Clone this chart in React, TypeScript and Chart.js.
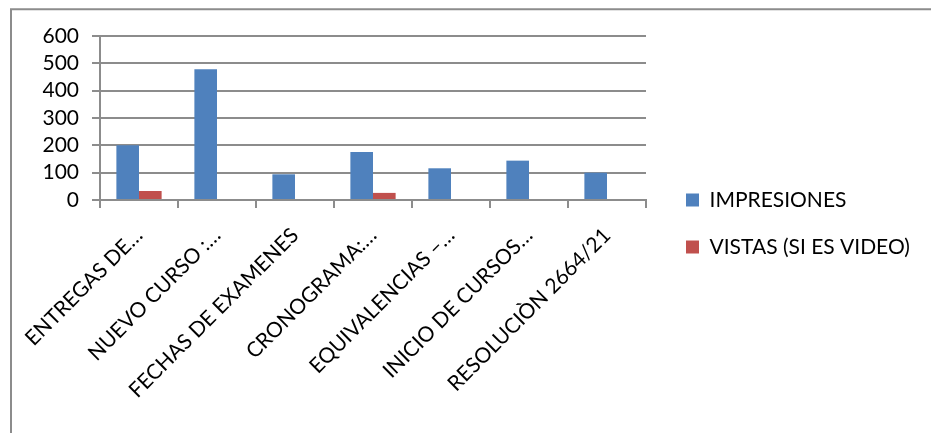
import { useEffect, useRef } from 'react';
import { Chart, registerables } from 'chart.js';

Chart.register(...registerables);

const categories = [
  'ENTREGAS DE…',
  'NUEVO CURSO :…',
  'FECHAS DE EXAMENES',
  'CRONOGRAMA:…',
  'EQUIVALENCIAS –…',
  'INICIO DE CURSOS…',
  'RESOLUCIÒN 2664/21',
];
const seriesNames = ['IMPRESIONES', 'VISTAS (SI ES VIDEO)'];
const impresiones = [200, 478, 94, 176, 116, 144, 100];
const vistas = [33, 0, 0, 26, 0, 0, 0];
const yMin = 0;
const yMax = 600;
const yStep = 100;

const W = 931;
const H = 433;
const FAMILY = "Lato, 'Open Sans', 'DejaVu Sans', sans-serif";
const FS = 21;
const LINE = '#8c8c8c';

export default function App() {
  const ref = useRef<HTMLCanvasElement | null>(null);

  useEffect(() => {
    const canvas = ref.current;
    if (!canvas) return;

    const m = document.createElement('canvas').getContext('2d')!;
    m.font = `normal ${FS}px ${FAMILY}`;
    const tw = Math.max(...seriesNames.map((n) => m.measureText(n).width));
    const legPad = 26;
    const box = 13;
    const legendW = legPad + box + FS / 2 + tw + 10;
    const padRight = Math.max(0, 271 - legendW);

    const frame = {
      id: 'frame',
      beforeDraw(chart: any) {
        const ctx = chart.ctx;
        ctx.save();
        ctx.strokeStyle = LINE;
        ctx.lineWidth = 2;
        ctx.beginPath();
        ctx.moveTo(11, H + 5);
        ctx.lineTo(11, 9.25);
        ctx.lineTo(W + 5, 9.25);
        ctx.stroke();
        ctx.restore();
      },
    };

    const font = { family: FAMILY, size: FS };

    const chart = new Chart(canvas, {
      type: 'bar',
      data: {
        labels: categories,
        datasets: [
          {
            label: seriesNames[0],
            data: impresiones,
            backgroundColor: '#4F81BD',
            borderWidth: 0,
            categoryPercentage: 0.58,
            barPercentage: 1,
          },
          {
            label: seriesNames[1],
            data: vistas,
            backgroundColor: '#C0504D',
            borderWidth: 0,
            categoryPercentage: 0.58,
            barPercentage: 1,
          },
        ],
      },
      options: {
        responsive: false,
        maintainAspectRatio: false,
        animation: false,
        devicePixelRatio: 1,
        layout: { padding: { top: 36, bottom: 22, left: 0, right: padRight } },
        plugins: {
          legend: {
            position: 'right',
            maxWidth: 500,
            labels: {
              font,
              color: '#000',
              boxWidth: box,
              boxHeight: box,
              padding: legPad,
            },
          },
          tooltip: { enabled: false },
          title: { display: false },
        },
        scales: {
          x: {
            grid: {
              display: true,
              drawOnChartArea: false,
              drawTicks: true,
              tickLength: 8,
              color: LINE,
              lineWidth: 2,
              offset: true,
            },
            border: { display: true, color: LINE, width: 2 },
            ticks: {
              autoSkip: false,
              minRotation: 45,
              maxRotation: 45,
              font,
              color: '#000',
              padding: 15,
              labelOffset: 0,
            },
            afterFit: (s: any) => {
              s.height = H - 22 - 200;
            },
          },
          y: {
            min: yMin,
            max: yMax,
            ticks: { stepSize: yStep, autoSkip: false, font, color: '#000', padding: 13 },
            grid: { color: LINE, lineWidth: 2, tickLength: 8, drawTicks: true },
            border: { display: true, color: LINE, width: 2 },
            afterFit: (s: any) => {
              s.width = 100;
            },
          },
          y2: {
            position: 'right',
            display: true,
            grid: { display: false, drawTicks: false },
            ticks: { display: false },
            border: { display: false },
            afterFit: (s: any) => {
              s.width = 14;
            },
          },
        },
      },
      plugins: [frame],
    });

    return () => chart.destroy();
  }, []);

  return (
    <div
      style={{
        position: 'fixed',
        left: 0,
        top: 0,
        width: W,
        height: H,
        background: '#fff',
        overflow: 'hidden',
      }}
    >
      <canvas ref={ref} width={W} height={H} style={{ display: 'block', width: W, height: H }} />
    </div>
  );
}
